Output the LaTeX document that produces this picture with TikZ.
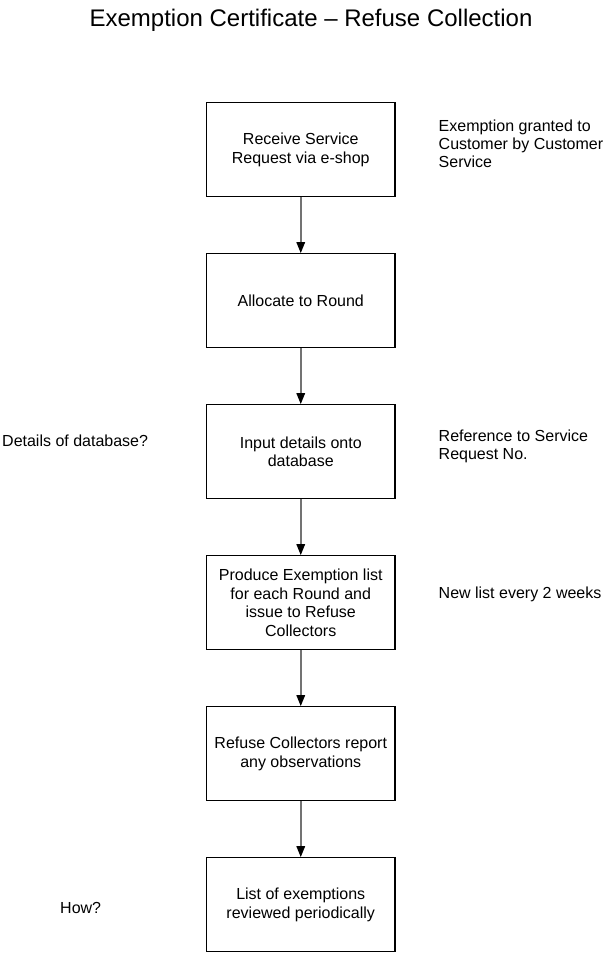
\documentclass[tikz,border=0pt]{standalone}
\usepackage{fontspec}
\setmainfont{Liberation Sans}
\usetikzlibrary{arrows.meta}
\begin{document}
\begin{tikzpicture}[x=1pt,y=-1pt,
  stepbox/.style={draw=black,line width=1.2pt,minimum width=188.5pt,minimum height=94pt,inner sep=0pt,align=center,font=\fontsize{16}{18.4}\selectfont},
  note/.style={inner sep=0pt,align=left,font=\fontsize{16}{18.4}\selectfont},
  conn/.style={draw=black!55,line width=1.6pt,-{Triangle[length=11pt,width=8.5pt,color=black]}}]
\useasboundingbox[fill=white] (0,0) rectangle (608,954);
\node[font=\fontsize{24}{28}\selectfont,inner sep=0pt,anchor=base] (title) at (311,26) {Exemption Certificate – Refuse Collection};
\node[stepbox] (b1) at (300.75,149.7) {Receive Service\\Request via e-shop};
\node[stepbox] (b2) at (300.75,300.7) {Allocate to Round};
\node[stepbox] (b3) at (300.75,451.7) {Input details onto\\database};
\node[stepbox] (b4) at (300.75,602.7) {Produce Exemption list\\for each Round and\\issue to Refuse\\Collectors};
\node[stepbox] (b5) at (300.75,753.7) {Refuse Collectors report\\any observations};
\node[stepbox] (b6) at (300.75,904.7) {List of exemptions\\reviewed periodically};
\draw[conn] (b1) -- (b2);
\draw[conn] (b2) -- (b3);
\draw[conn] (b3) -- (b4);
\draw[conn] (b4) -- (b5);
\draw[conn] (b5) -- (b6);
\node[note,anchor=north west] (n1) at (438.5,119.3) {Exemption granted to\\Customer by Customer\\Service};
\node[note,anchor=north west] (n3) at (438.5,429.5) {Reference to Service\\Request No.};
\node[note,anchor=west] (n4) at (438.5,594) {New list every 2 weeks};
\node[note,anchor=west] (n3l) at (2,441) {Details of database?};
\node[note,anchor=west] (n6l) at (60,908) {How?};
\end{tikzpicture}
\end{document}
